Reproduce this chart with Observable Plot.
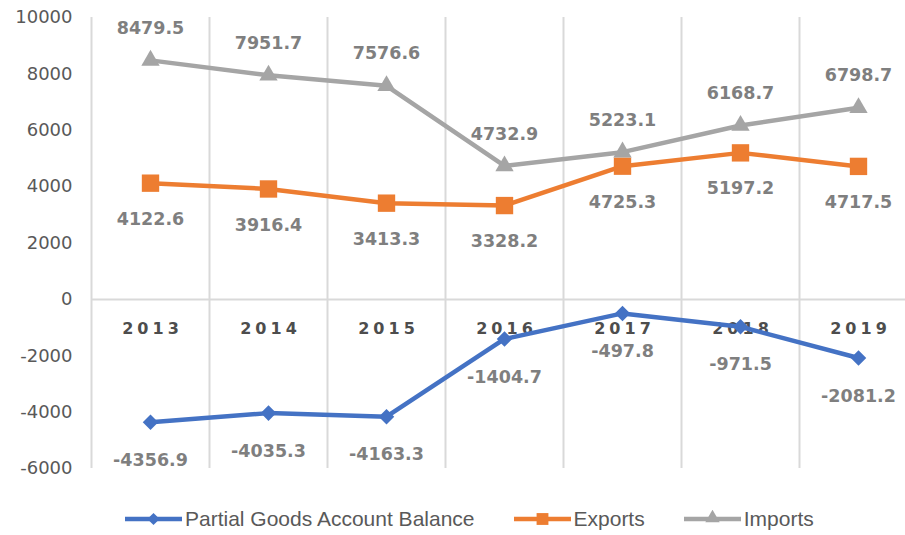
<!DOCTYPE html>
<html>
<head>
<meta charset="utf-8">
<script src="https://cdn.jsdelivr.net/npm/d3@7"></script>
<script src="https://cdn.jsdelivr.net/npm/@observablehq/plot@0.6"></script>
<style>
  body { margin: 0; background: #fff; }
  #wrap { position: relative; width: 905px; height: 535px; overflow: hidden; background: #fff; }
  #chart svg { display: block; overflow: hidden; }
  #legend { position: absolute; left: 125px; top: 505px; display: flex; align-items: center;
    font-family: "Liberation Sans", Arial, sans-serif; font-size: 21px; color: #595959; line-height: 28px; }
  .item { display: flex; align-items: center; margin-right: 39px; white-space: nowrap; }
  .item svg { margin-right: 3px; display: block; }
</style>
</head>
<body>
<div id="wrap">
  <div id="chart"></div>
  <div id="legend"></div>
</div>
<script>
// ---- data ----
const years = ["2013", "2014", "2015", "2016", "2017", "2018", "2019"];
const balance = [-4356.9, -4035.3, -4163.3, -1404.7, -497.8, -971.5, -2081.2];
const exportsV = [4122.6, 3916.4, 3413.3, 3328.2, 4725.3, 5197.2, 4717.5];
const importsV = [8479.5, 7951.7, 7576.6, 4732.9, 5223.1, 6168.7, 6798.7];
const yTicks = [-6000, -4000, -2000, 0, 2000, 4000, 6000, 8000, 10000];
const seriesNames = ["Partial Goods Account Balance", "Exports", "Imports"];

// ---- styles ----
const series = [
  {name: seriesNames[0], values: balance, color: "#4472C4", symbol: "square", rotate: 45, r: 6.2, labelDy: 38},
  {name: seriesNames[1], values: exportsV, color: "#ED7D31", symbol: "square", rotate: 0, r: 9.8, labelDy: 36},
  {name: seriesNames[2], values: importsV, color: "#A5A5A5", symbol: "triangle", rotate: 0, r: 6.8, labelDy: -32}
];

const idx = d3.range(years.length);
const bounds = d3.range(years.length).map(i => i - 0.5);

const marks = [
  Plot.ruleX(bounds, {x: d => d, stroke: "#D9D9D9", strokeWidth: 2}),
  Plot.ruleY([0], {stroke: "#D9D9D9", strokeWidth: 2}),
  Plot.axisY(yTicks, {tickSize: 0, tickPadding: 19, tickFormat: d => String(d),
    fontSize: 18, fontFamily: "DejaVu Sans", fill: "#595959", label: null}),
  Plot.text(years, {x: (d, i) => i, y: () => 0, dy: 29, dx: 2, text: d => d,
    fontFamily: "DejaVu Sans", fontWeight: "bold", fontSize: 16, fill: "#4d4d4d", ariaDescription: "year labels"})
];

for (const s of series) {
  marks.push(Plot.line(idx, {x: i => i, y: i => s.values[i], stroke: s.color, strokeWidth: 4.5}));
}
for (const s of series) {
  marks.push(Plot.dot(idx, {x: i => i, y: i => s.values[i], symbol: s.symbol, r: s.r,
    fill: s.color, stroke: "none", rotate: s.rotate}));
}
for (const s of series) {
  marks.push(Plot.text(idx, {x: i => i, y: i => s.values[i], text: i => s.values[i].toFixed(1),
    dy: s.labelDy, fontFamily: "DejaVu Sans", fontWeight: "bold", fontSize: 17.5, fill: "#7F7F7F"}));
}

const chart = Plot.plot({
  width: 905,
  height: 502,
  marginLeft: 91,
  marginRight: 0,
  marginTop: 17,
  marginBottom: 34,
  x: {type: "linear", domain: [-0.5, years.length - 0.5], range: [91, 917], axis: null},
  y: {domain: [-6000, 10000]},
  marks
});
document.getElementById("chart").appendChild(chart);
d3.select(chart).selectAll('g[aria-description="year labels"] text')
  .style("letter-spacing", "4px");

// ---- legend ----
const legend = document.getElementById("legend");
series.forEach(s => {
  const item = document.createElement("div");
  item.className = "item";
  const sw = d3.create("svg").attr("width", 57).attr("height", 18);
  sw.append("line").attr("x1", 0).attr("x2", 57).attr("y1", 9).attr("y2", 9)
    .attr("stroke", s.color).attr("stroke-width", 4.5);
  const sym = s.symbol === "triangle" ? d3.symbolTriangle : d3.symbolSquare;
  const size = s.symbol === "triangle" ? 90 : (s.rotate ? 75 : 140);
  sw.append("path").attr("d", d3.symbol(sym, size)())
    .attr("transform", `translate(28.5,${s.symbol === "triangle" ? 8 : 9}) rotate(${s.rotate})`)
    .attr("fill", s.color);
  item.appendChild(sw.node());
  const t = document.createElement("span");
  t.textContent = s.name;
  item.appendChild(t);
  legend.appendChild(item);
});
</script>
</body>
</html>
